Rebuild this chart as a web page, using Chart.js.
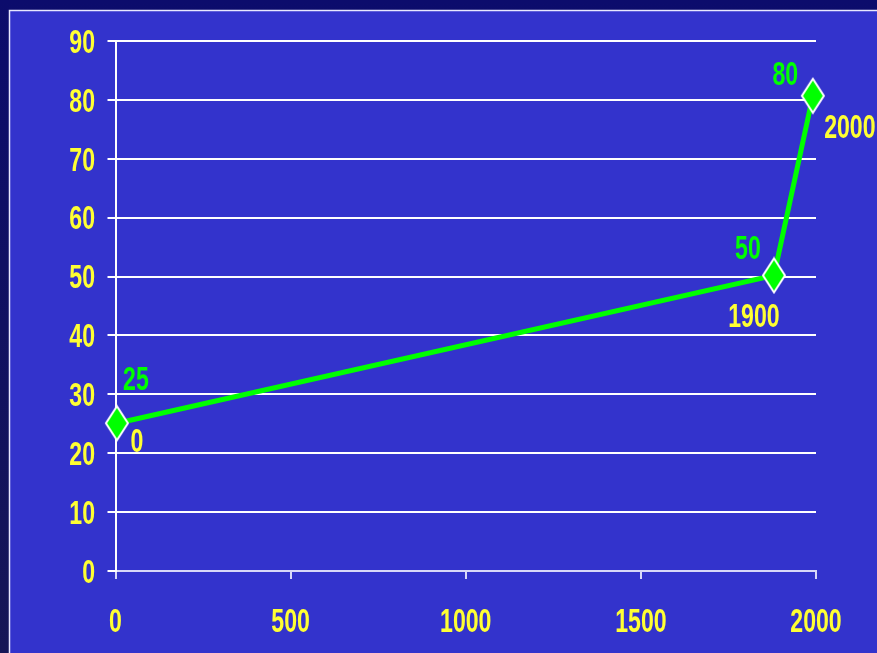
<!DOCTYPE html>
<html>
<head>
<meta charset="utf-8">
<script src="https://cdn.jsdelivr.net/npm/chart.js@4.4.1/dist/chart.umd.min.js"></script>
<style>
    body { margin: 0; background: #12125e; }
    #wrap { width: 877px; height: 653px; }
</style>
</head>
<body>
<div id="wrap"><canvas id="lineChart" width="877" height="653"></canvas></div>
<script>
// values
var xValues = [4, 1880, 1991];
var yValues = [25.1, 50.2, 80.7];
var valueLabels = ["25", "50", "80"];
var yearLabels = ["0", "1900", "2000"];

var yellow = "#ffff33";
var green = "#00ff00";
var fontFamily = "'Liberation Sans', Arial, sans-serif";
var fontSize = 33;

// diamond marker, a bit taller than wide
function makeDiamond() {
    var c = document.createElement("canvas");
    c.width = 26;
    c.height = 38;
    var g = c.getContext("2d");
    g.beginPath();
    g.moveTo(13, 2);
    g.lineTo(24, 19);
    g.lineTo(13, 36);
    g.lineTo(2, 19);
    g.closePath();
    g.fillStyle = green;
    g.fill();
    g.lineWidth = 2;
    g.strokeStyle = "#ffffff";
    g.stroke();
    return c;
}

// condensed bold text, centred on (x, y)
function narrowText(ctx, text, x, y, color, align) {
    ctx.save();
    ctx.translate(x, y + fontSize * 0.358);
    ctx.scale(0.7, 1);
    ctx.fillStyle = color;
    ctx.textAlign = align || "center";
    ctx.textBaseline = "alphabetic";
    ctx.font = "bold " + fontSize + "px " + fontFamily;
    ctx.fillText(text, 0, 0);
    ctx.restore();
}

var backgroundPlugin = {
    id: "slideBackground",
    beforeDraw: function (chart) {
        var ctx = chart.ctx;
        ctx.save();
        var grad = ctx.createLinearGradient(0, 0, 0, chart.height);
        grad.addColorStop(0, "#0c0c6c");
        grad.addColorStop(1, "#161656");
        ctx.fillStyle = grad;
        ctx.fillRect(0, 0, chart.width, chart.height);
        ctx.fillStyle = "#3333cc";
        ctx.fillRect(9, 10, chart.width - 9, chart.height - 10);
        ctx.strokeStyle = "#e8e8ff";
        ctx.lineWidth = 1.5;
        ctx.beginPath();
        ctx.moveTo(chart.width, 10.5);
        ctx.lineTo(9.5, 10.5);
        ctx.lineTo(9.5, chart.height);
        ctx.stroke();
        ctx.restore();
    }
};

// tick labels drawn from the scales' own ticks
var tickLabelPlugin = {
    id: "tickLabels",
    afterDraw: function (chart) {
        var ctx = chart.ctx;
        var xs = chart.scales.x;
        var ys = chart.scales.y;
        xs.ticks.forEach(function (t) {
            narrowText(ctx, String(t.value), xs.getPixelForValue(t.value), xs.top + 49.5, yellow);
        });
        ys.ticks.forEach(function (t) {
            narrowText(ctx, String(t.value), ys.right - 20.5, ys.getPixelForValue(t.value), yellow, "right");
        });
    }
};

// offsets of the text next to each point
var valueOffsets = [[19, -45.5], [-26, -28.5], [-27.5, -23]];
var yearOffsets = [[20, 17], [-20, 40], [37, 30.5]];

var pointLabelPlugin = {
    id: "pointLabels",
    afterDatasetsDraw: function (chart) {
        var ctx = chart.ctx;
        var meta = chart.getDatasetMeta(0);
        meta.data.forEach(function (pt, i) {
            narrowText(ctx, valueLabels[i], pt.x + valueOffsets[i][0], pt.y + valueOffsets[i][1], green);
            narrowText(ctx, yearLabels[i], pt.x + yearOffsets[i][0], pt.y + yearOffsets[i][1], yellow);
        });
    }
};

var points = xValues.map(function (x, i) {
    return { x: x, y: yValues[i] };
});

var ctx = document.getElementById("lineChart").getContext("2d");
new Chart(ctx, {
    type: "line",
    data: {
        datasets: [{
            data: points,
            borderColor: green,
            borderWidth: 5,
            pointStyle: makeDiamond(),
            pointRadius: 12,
            tension: 0,
            clip: false
        }]
    },
    options: {
        responsive: false,
        animation: false,
        layout: { padding: { left: 0, top: 41, right: 61, bottom: 0 } },
        plugins: {
            legend: { display: false },
            tooltip: { enabled: false }
        },
        scales: {
            x: {
                type: "linear",
                min: 0,
                max: 2000,
                afterFit: function (s) { s.height = 82; },
                ticks: { stepSize: 500, display: false },
                grid: {
                    drawOnChartArea: false,
                    drawTicks: true,
                    tickLength: 8,
                    color: "#d8d8f8",
                    lineWidth: 2
                },
                border: { color: "#d8d8f8", width: 2 }
            },
            y: {
                min: 0,
                max: 90,
                afterFit: function (s) { s.width = 115.5; },
                ticks: { stepSize: 10, display: false },
                grid: {
                    color: "#ffffff",
                    lineWidth: 2,
                    tickLength: 8
                },
                border: { color: "#ffffff", width: 2 }
            }
        }
    },
    plugins: [backgroundPlugin, tickLabelPlugin, pointLabelPlugin]
});
</script>
</body>
</html>
